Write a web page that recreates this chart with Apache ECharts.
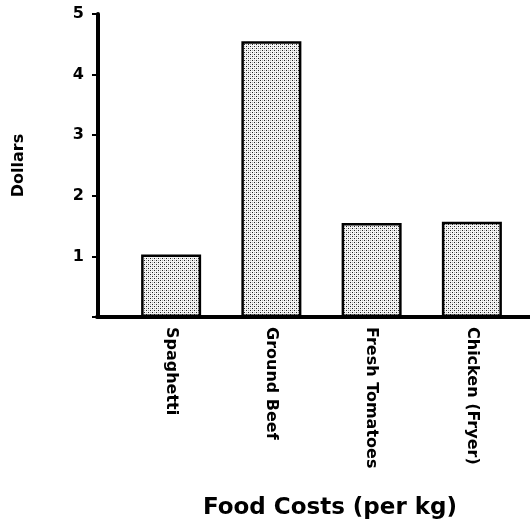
<!DOCTYPE html>
<html>
<head>
<meta charset="utf-8">
<script src="https://cdn.jsdelivr.net/npm/echarts@6/dist/echarts.min.js"></script>
<style>
  html, body { margin: 0; padding: 0; background: #fff; }
  #chart { width: 530px; height: 524px; }
</style>
</head>
<body>
<div id="chart"></div>
<script>
var chartDom = document.getElementById('chart');
var myChart = echarts.init(chartDom);

var foods = ['Spaghetti', 'Ground Beef', 'Fresh Tomatoes', 'Chicken (Fryer)'];
var prices = [1.03, 4.55, 1.55, 1.57];
var yTicks = [0, 1, 2, 3, 4, 5];

var fontFam = '"DejaVu Sans", "Open Sans", sans-serif';

// stipple fill like the printed dot screen
var tile = document.createElement('canvas');
tile.width = 4;
tile.height = 4;
var ctx = tile.getContext('2d');
ctx.fillStyle = '#f4f4f4';
ctx.fillRect(0, 0, 4, 4);
ctx.fillStyle = '#222';
ctx.fillRect(0, 0, 1, 1);
ctx.fillRect(2, 2, 1, 1);
ctx.fillStyle = '#b0b0b0';
ctx.fillRect(2, 0, 1, 1);
ctx.fillRect(0, 2, 1, 1);

var option = {
  animation: false,
  backgroundColor: '#fff',
  title: {
    text: 'Food Costs (per kg)',
    left: 325,
    top: 492,
    textAlign: 'center',
    textStyle: { fontFamily: fontFam, fontWeight: 'bold', fontSize: 23, color: '#000' }
  },
  grid: [
    { left: 121, right: 8, top: 14, bottom: 207 },
    // only used to draw the long baseline
    { left: 97, right: 0, top: 14, bottom: 207 }
  ],
  xAxis: [
    {
      type: 'category',
      gridIndex: 0,
      data: foods,
      axisLine: { show: false },
      axisTick: { show: false },
      axisLabel: {
        rotate: -90,
        margin: 10,
        interval: 0,
        color: '#000',
        fontFamily: fontFam,
        fontWeight: 'bold',
        fontSize: 16
      }
    },
    {
      type: 'value',
      gridIndex: 1,
      min: 0,
      max: 1,
      axisLine: { show: true, lineStyle: { color: '#000', width: 4 } },
      axisTick: { show: false },
      axisLabel: { show: false },
      splitLine: { show: false }
    }
  ],
  yAxis: [
    {
      type: 'value',
      gridIndex: 0,
      min: yTicks[0],
      max: yTicks[yTicks.length - 1],
      interval: 1,
      offset: 23,
      name: 'Dollars',
      nameLocation: 'middle',
      nameGap: 71,
      nameRotate: 90,
      nameTextStyle: { fontFamily: fontFam, fontWeight: 'bold', fontSize: 16, color: '#000' },
      axisLine: { show: true, lineStyle: { color: '#000', width: 4 } },
      axisTick: { show: true, length: 6, lineStyle: { color: '#000', width: 2 } },
      axisLabel: {
        margin: 14,
        color: '#000',
        fontFamily: fontFam,
        fontWeight: 'bold',
        fontSize: 16,
        formatter: function (v) { return v === 0 ? '' : String(v); }
      },
      splitLine: { show: false }
    },
    {
      type: 'value',
      gridIndex: 1,
      show: false
    }
  ],
  series: [
    {
      type: 'bar',
      xAxisIndex: 0,
      yAxisIndex: 0,
      data: prices,
      barWidth: 60,
      itemStyle: {
        color: { image: tile, repeat: 'repeat' },
        borderColor: '#000',
        borderWidth: 2.5
      }
    }
  ]
};

myChart.setOption(option);
</script>
</body>
</html>
